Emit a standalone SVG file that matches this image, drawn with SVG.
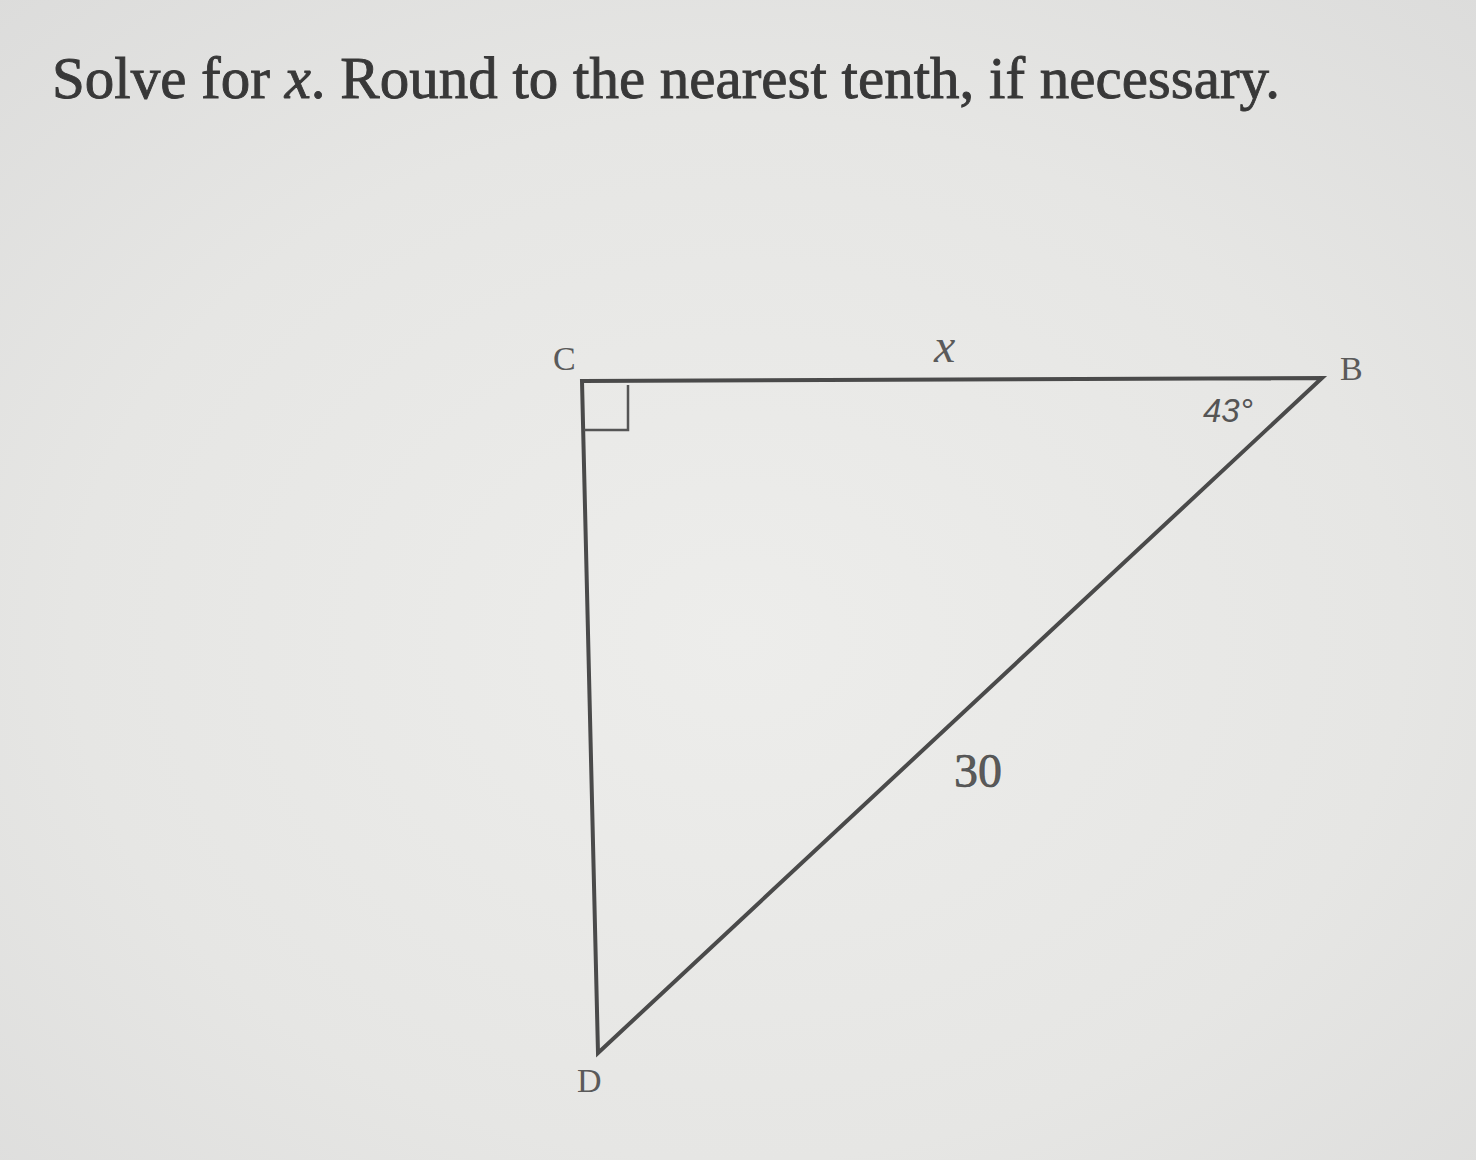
<svg xmlns="http://www.w3.org/2000/svg" width="1476" height="1160" viewBox="0 0 1476 1160">
<defs>
<radialGradient id="bg" cx="0.5" cy="0.55" r="0.75">
<stop offset="0" stop-color="#ededeb"/>
<stop offset="0.6" stop-color="#e6e6e4"/>
<stop offset="1" stop-color="#dcdcdb"/>
</radialGradient>
<style>
.ln{fill:none;stroke:#4a4a4a;stroke-width:4;stroke-linejoin:miter}
.sq{fill:none;stroke:#555;stroke-width:2.5}
.lbl{font-family:"Liberation Serif","DejaVu Serif",serif;fill:#5a5a5a}
.title{font-family:"Liberation Serif","DejaVu Serif",serif;fill:#383838;stroke:#383838;stroke-width:0.9;font-size:60px}
</style>
</defs>
<rect width="1476" height="1160" fill="url(#bg)"/>
<text class="title" x="52" y="98" textLength="1228" lengthAdjust="spacingAndGlyphs">Solve for <tspan font-style="italic">x</tspan>. Round to the nearest tenth, if necessary.</text>
<g id="connectors">
<path class="ln" d="M582,381 L1322,378 L598,1053 Z"/>
</g>
<g id="right-angle"><path class="sq" d="M584,430 L628,430 L628,385"/></g>
<g id="C"><text class="lbl" x="553" y="370" font-size="34">C</text></g>
<g id="B"><text class="lbl" x="1340" y="380" font-size="34">B</text></g>
<g id="D"><text class="lbl" x="577" y="1092" font-size="34">D</text></g>
<g id="label-x"><text class="lbl" x="934" y="362" font-size="48" font-style="italic" fill="#555">x</text></g>
<g id="label-43"><text x="1203" y="422" font-family="Liberation Sans, sans-serif" font-style="italic" font-size="33" fill="#555">43°</text></g>
<g id="label-30"><text class="lbl" x="954" y="787" font-size="48" fill="#444" stroke="#444" stroke-width="0.6">30</text></g>
</svg>
